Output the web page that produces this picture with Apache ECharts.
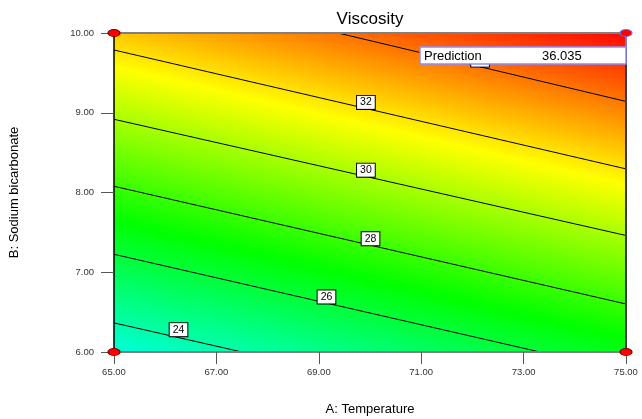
<!DOCTYPE html>
<html>
<head>
<meta charset="utf-8">
<script src="https://cdn.jsdelivr.net/npm/echarts@6/dist/echarts.min.js"></script>
<style>
html,body{margin:0;padding:0;background:#fff;}
#chart{width:642px;height:419px;}
</style>
</head>
<body>
<div id="chart"></div>
<script>
// ---- data ----
const xRange = [65, 75];            // A: Temperature
const yRange = [6, 10];             // B: Sodium bicarbonate
const xTickStep = 2;
const yTickStep = 1;
const contourLevels = [24, 26, 28, 30, 32, 34];
const contourStart = [[65, 6.365], [65, 7.225], [65, 8.078], [65, 8.918], [65, 9.787], [69.375, 10]];
const contourEnd   = [[67.5, 6],   [73.32, 6],  [75, 6.602],  [75, 7.461],  [75, 8.296],  [75, 9.142]];
const labelPos     = [[66.26, 6.28], [69.15, 6.69], [70.01, 7.42], [69.92, 8.28], [69.92, 9.13], [72.15, 9.66]];
const designPoints = [[65, 6], [65, 10], [75, 6], [75, 10]];
const predictionPoint = [75, 10];
const predictionValue = 36.035;
// response values where the colour map passes cyan, green, yellow, red
const colorLevels = [22.5, 27, 31.5, 36.035];
const colorNames  = ['#00ffff', '#00ff00', '#ffff00', '#ff0000'];

const FONT = 'Liberation Sans, Arial, Helvetica, sans-serif';
const chart = echarts.init(document.getElementById('chart'), null, {renderer: 'canvas'});

function surfaceItem(params, api) {
  const tl = api.coord([xRange[0], yRange[1]]);
  const br = api.coord([xRange[1], yRange[0]]);
  const ref = 2; // the 28 contour
  const a = api.coord(contourStart[ref]);
  const b = api.coord(contourEnd[ref]);
  let dx = b[0] - a[0], dy = b[1] - a[1];
  const L = Math.hypot(dx, dy); dx /= L; dy /= L;
  const nx = dy, ny = -dx;
  const dist = p => (p[0] - a[0]) * nx + (p[1] - a[1]) * ny;
  const n = contourLevels.length - 1;
  const dLow = dist(api.coord(contourStart[0]));
  const dHigh = dist(api.coord(contourStart[n]));
  const pxPerUnit = (dHigh - dLow) / (contourLevels[n] - contourLevels[0]);
  const g0 = dLow + (colorLevels[0] - contourLevels[0]) * pxPerUnit;
  const g1 = dLow + (colorLevels[colorLevels.length - 1] - contourLevels[0]) * pxPerUnit;
  const span = colorLevels[colorLevels.length - 1] - colorLevels[0];
  const stops = colorLevels.map((v, i) => ({offset: (v - colorLevels[0]) / span, color: colorNames[i]}));
  return {
    type: 'rect',
    shape: {x: tl[0], y: tl[1], width: br[0] - tl[0], height: br[1] - tl[1]},
    style: {
      fill: {
        type: 'linear', global: true,
        x: a[0] + nx * g0, y: a[1] + ny * g0,
        x2: a[0] + nx * g1, y2: a[1] + ny * g1,
        colorStops: stops
      }
    }
  };
}

function contourItem(params, api) {
  const i = params.dataIndex;
  const p0 = api.coord(contourStart[i]);
  const p1 = api.coord(contourEnd[i]);
  return {
    type: 'line',
    shape: {x1: p0[0], y1: p0[1], x2: p1[0], y2: p1[1]},
    style: {stroke: '#000', lineWidth: 1}
  };
}

function predictionItem(params, api) {
  const p = api.coord([api.value(0), api.value(1)]);
  const val = api.value(2);
  const w = 206, top = p[1] + 14, h = 17;
  return {
    type: 'group',
    children: [
      {type: 'line', shape: {x1: p[0], y1: p[1], x2: p[0], y2: top}, style: {stroke: '#8c8cff', lineWidth: 1.5}},
      {type: 'rect', shape: {x: p[0] - w, y: top, width: w, height: h},
        style: {fill: '#fff', stroke: '#8c8cff', lineWidth: 1.5}},
      {type: 'text', x: p[0] - w + 4, y: top + h / 2 + 0.5,
        style: {text: 'Prediction', font: '13px ' + FONT, fill: '#000', verticalAlign: 'middle', align: 'left'}},
      {type: 'text', x: p[0] - 84, y: top + h / 2 + 0.5,
        style: {text: val.toFixed(3), font: '13px ' + FONT, fill: '#000', verticalAlign: 'middle', align: 'left'}}
    ]
  };
}

const same = (p, q) => p[0] === q[0] && p[1] === q[1];

const option = {
  animation: false,
  backgroundColor: '#fff',
  textStyle: {fontFamily: FONT},
  title: {
    text: 'Viscosity', left: 370, top: 11, textAlign: 'center', padding: 0,
    textStyle: {fontSize: 17, fontWeight: 'normal', color: '#000', fontFamily: FONT}
  },
  grid: {left: 114, top: 33, width: 512, height: 319, containLabel: false, outerBoundsMode: 'none'},
  xAxis: [{
    type: 'value', min: xRange[0], max: xRange[1], interval: xTickStep, position: 'bottom', z: 5,
    name: 'A: Temperature', nameLocation: 'middle', nameGap: 51,
    nameTextStyle: {fontSize: 13, color: '#000', fontFamily: FONT},
    axisLine: {show: true, onZero: false, lineStyle: {color: '#808080', width: 2}},
    axisTick: {show: true, length: 12, lineStyle: {color: '#555', width: 1}},
    axisLabel: {fontSize: 9.5, color: '#333', margin: 15, formatter: v => v.toFixed(2), fontFamily: FONT},
    splitLine: {show: false}
  }, {
    type: 'value', min: xRange[0], max: xRange[1], position: 'top', z: 5,
    axisLine: {show: true, onZero: false, lineStyle: {color: '#808080', width: 2}},
    axisTick: {show: false}, axisLabel: {show: false}, splitLine: {show: false}
  }],
  yAxis: [{
    type: 'value', min: yRange[0], max: yRange[1], interval: yTickStep, position: 'left', z: 5,
    name: 'B: Sodium bicarbonate', nameLocation: 'middle', nameGap: 93, nameRotate: 90,
    nameTextStyle: {fontSize: 13, color: '#000', fontFamily: FONT},
    axisLine: {show: true, onZero: false, lineStyle: {color: '#000', width: 1.5}},
    axisTick: {show: true, length: 13, lineStyle: {color: '#555', width: 1}},
    axisLabel: {fontSize: 9.5, color: '#333', margin: 20, formatter: v => v.toFixed(2), fontFamily: FONT},
    splitLine: {show: false}
  }, {
    type: 'value', min: yRange[0], max: yRange[1], position: 'right', z: 5,
    axisLine: {show: true, onZero: false, lineStyle: {color: '#3a3a3a', width: 2}},
    axisTick: {show: false}, axisLabel: {show: false}, splitLine: {show: false}
  }],
  series: [
    {
      type: 'custom', name: 'surface', xAxisIndex: 0, yAxisIndex: 0, z: 1, silent: true,
      renderItem: surfaceItem, data: [[xRange[0], yRange[0]]], clip: false
    },
    {
      type: 'custom', name: 'contours', xAxisIndex: 0, yAxisIndex: 0, z: 2, silent: true,
      renderItem: contourItem, data: contourLevels.map((lv, i) => [contourStart[i][0], contourStart[i][1], lv]), clip: true
    },
    {
      type: 'scatter', name: 'contourLabels', xAxisIndex: 0, yAxisIndex: 0, z: 3, silent: true,
      symbolSize: 0, itemStyle: {opacity: 1},
      data: labelPos.map((p, i) => ({value: [p[0], p[1]]})),
      label: {
        show: true, position: 'inside', fontSize: 10.5, color: '#000', fontFamily: FONT, opacity: 1,
        backgroundColor: '#ffffff', borderColor: '#000', borderWidth: 1, padding: [1, 3, 1, 3], lineHeight: 11,
        formatter: p => String(contourLevels[p.dataIndex])
      }
    },
    {
      type: 'custom', name: 'prediction', xAxisIndex: 0, yAxisIndex: 0, z: 8, silent: true, clip: false,
      renderItem: predictionItem,
      data: [[predictionPoint[0], predictionPoint[1], predictionValue]]
    },
    {
      type: 'scatter', name: 'design', xAxisIndex: 0, yAxisIndex: 0, z: 9, silent: true,
      symbol: 'circle', symbolSize: [12, 7], clip: false,
      data: designPoints.map(p => ({
        value: p,
        itemStyle: {color: '#ff0000', opacity: 1, borderColor: same(p, predictionPoint) ? '#6f6fff' : '#7a0000', borderWidth: 1}
      }))
    }
  ]
};
chart.setOption(option);
</script>
</body>
</html>
